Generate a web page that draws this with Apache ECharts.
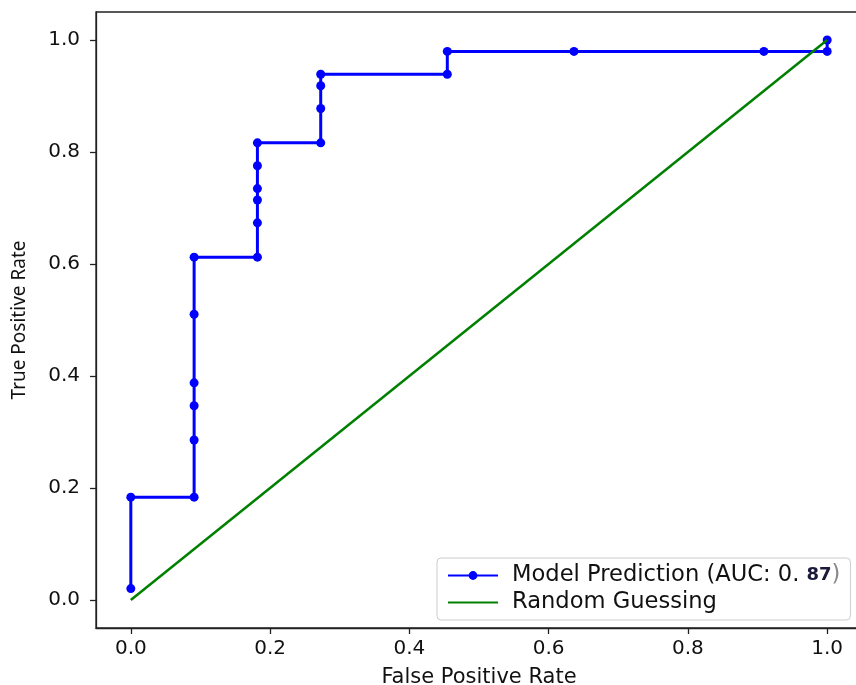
<!DOCTYPE html>
<html>
<head>
<meta charset="utf-8">
<script src="https://cdn.jsdelivr.net/npm/echarts@6/dist/echarts.min.js"></script>
<style>
html,body{margin:0;padding:0;background:#fff;}
#chart{width:856px;height:685px;}
</style>
</head>
<body>
<div id="chart"></div>
<script>
// Model ROC points (False Positive Rate, True Positive Rate)
var fpr = [0, 0, 0.0909, 0.0909, 0.0909, 0.0909, 0.0909, 0.0909, 0.1818, 0.1818, 0.1818, 0.1818, 0.1818, 0.1818, 0.2727, 0.2727, 0.2727, 0.2727, 0.4545, 0.4545, 0.6364, 0.9091, 1.0, 1.0];
var tpr = [0.0204, 0.1837, 0.1837, 0.2857, 0.3469, 0.3878, 0.5102, 0.6122, 0.6122, 0.6735, 0.7143, 0.7347, 0.7755, 0.8163, 0.8163, 0.8776, 0.9184, 0.9388, 0.9388, 0.9796, 0.9796, 0.9796, 0.9796, 1.0];
// Random guessing diagonal
var randX = [0, 1];
var randY = [0, 1];
// Tick values
var xTicks = [0, 0.2, 0.4, 0.6, 0.8, 1.0];
var yTicks = [0, 0.2, 0.4, 0.6, 0.8, 1.0];
var modelName = 'Model Prediction (AUC: 0.87)';
var randomName = 'Random Guessing';

function pairs(xs, ys) { return xs.map(function (x, i) { return [x, ys[i]]; }); }

var chart = echarts.init(document.getElementById('chart'));
var axisColor = '#222';
chart.setOption({
  animation: false,
  backgroundColor: '#fff',
  grid: { show: true, left: 96, top: 12, width: 766, height: 616, outerBoundsMode: 'none', containLabel: false, borderColor: axisColor, borderWidth: 1.3, backgroundColor: 'transparent' },
  xAxis: {
    type: 'value', min: -0.05, max: 1.05,
    name: 'False Positive Rate', nameLocation: 'middle', nameGap: 39,
    nameTextStyle: { fontFamily: 'DejaVu Sans', fontSize: 21, color: '#111' },
    axisLine: { show: true, onZero: false, lineStyle: { color: axisColor, width: 1.3 } },
    axisTick: { show: true, length: 6, customValues: xTicks, lineStyle: { color: axisColor, width: 1.3 } },
    axisLabel: { customValues: xTicks, margin: 11, fontFamily: 'DejaVu Sans', fontSize: 20, color: '#111', formatter: function (v) { return v.toFixed(1); } },
    splitLine: { show: false }
  },
  yAxis: {
    type: 'value', min: -0.05, max: 1.05,
    name: 'True Positive Rate', nameLocation: 'middle', nameGap: 67,
    nameTextStyle: { fontFamily: 'Noto Sans', fontSize: 19, color: '#111' },
    axisLine: { show: true, onZero: false, lineStyle: { color: axisColor, width: 1.3 } },
    axisTick: { show: true, length: 6, customValues: yTicks, lineStyle: { color: axisColor, width: 1.3 } },
    axisLabel: { customValues: yTicks, margin: 16, fontFamily: 'DejaVu Sans', fontSize: 20, color: '#111', formatter: function (v) { return v.toFixed(1); } },
    splitLine: { show: false }
  },
  legend: {
    orient: 'vertical', left: 437, top: 558,
    padding: [6, 10, 6, 10], itemGap: 4, itemWidth: 50, itemHeight: 11,
    backgroundColor: 'rgba(255,255,255,0.85)', borderColor: '#cccccc', borderWidth: 1, borderRadius: 4,
    data: [modelName, { name: randomName, itemStyle: { opacity: 0 } }],
    formatter: function (name) {
      if (name === modelName) { return '{a|Model Prediction (AUC: 0. }{b|87}{c|)}'; }
      return '{a|' + name + '}';
    },
    textStyle: {
      fontFamily: 'DejaVu Sans', fontSize: 22.6, color: '#111', padding: [0, 0, 0, 9],
      rich: {
        a: { fontFamily: 'DejaVu Sans', fontSize: 22.6, color: '#111', lineHeight: 26 },
        b: { fontFamily: 'DejaVu Sans', fontSize: 18, fontWeight: 'bold', color: '#1a1a3a', lineHeight: 26 },
        c: { fontFamily: 'DejaVu Sans', fontSize: 22.6, color: '#888', lineHeight: 26 }
      }
    }
  },
  series: [
    {
      name: modelName, type: 'line', data: pairs(fpr, tpr),
      symbol: 'circle', symbolSize: 9, showSymbol: true,
      lineStyle: { color: '#0000ff', width: 3 },
      itemStyle: { color: '#0000ff' },
      z: 3
    },
    {
      name: randomName, type: 'line', data: pairs(randX, randY),
      symbol: 'none', showSymbol: false,
      lineStyle: { color: '#008000', width: 2.5 },
      itemStyle: { color: '#008000' },
      z: 4
    }
  ]
});
</script>
</body>
</html>
